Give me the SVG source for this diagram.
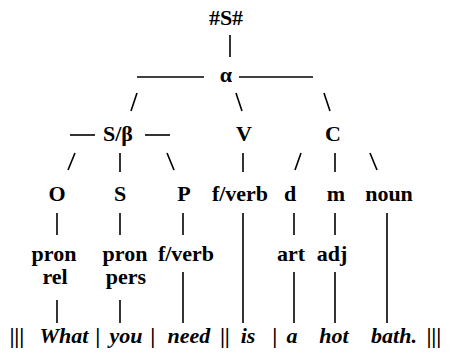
<svg xmlns="http://www.w3.org/2000/svg" width="450" height="357" viewBox="0 0 450 357">
<rect width="450" height="357" fill="#fff"/>
<g id="connectors" stroke="#000" stroke-width="1.6" fill="none">
<line x1="230" y1="35" x2="230" y2="57"/>
<line x1="137" y1="77" x2="204" y2="77"/>
<line x1="239" y1="77" x2="313" y2="77"/>
<line x1="137" y1="93" x2="131" y2="111"/>
<line x1="236" y1="93" x2="242" y2="111"/>
<line x1="324" y1="93" x2="330" y2="111"/>
<line x1="70" y1="135" x2="95" y2="135"/>
<line x1="145" y1="135" x2="170" y2="135"/>
<line x1="75" y1="153" x2="68" y2="170"/>
<line x1="120" y1="153" x2="120" y2="172"/>
<line x1="167" y1="153" x2="174" y2="170"/>
<line x1="243" y1="153" x2="243" y2="172"/>
<line x1="301" y1="153" x2="295" y2="170"/>
<line x1="335" y1="153" x2="335" y2="172"/>
<line x1="370" y1="153" x2="377" y2="170"/>
<line x1="57" y1="213" x2="57" y2="235"/>
<line x1="120" y1="213" x2="120" y2="235"/>
<line x1="183" y1="213" x2="183" y2="235"/>
<line x1="243" y1="213" x2="243" y2="323"/>
<line x1="294" y1="213" x2="294" y2="235"/>
<line x1="335" y1="213" x2="335" y2="235"/>
<line x1="387" y1="213" x2="387" y2="323"/>
<line x1="57" y1="300" x2="57" y2="323"/>
<line x1="120" y1="300" x2="120" y2="323"/>
<line x1="183" y1="272" x2="183" y2="323"/>
<line x1="294" y1="272" x2="294" y2="323"/>
<line x1="335" y1="272" x2="335" y2="323"/>
</g>
<g id="n-root"><text x="226" y="25" font-family="Liberation Serif" font-size="22" font-weight="bold" text-anchor="middle">#S#</text></g>
<g id="n-V"><text x="244" y="141" font-family="Liberation Serif" font-size="22" font-weight="bold" text-anchor="middle">V</text></g>
<g id="n-C"><text x="333" y="141" font-family="Liberation Serif" font-size="22" font-weight="bold" text-anchor="middle">C</text></g>
<g id="n-alpha"><text x="226" y="82" font-family="Liberation Serif" font-size="22" font-weight="bold" text-anchor="middle">α</text></g>
<g id="n-sbeta"><text x="118" y="141" font-family="Liberation Serif" font-size="22" font-weight="bold" text-anchor="middle">S/β</text></g>
<g id="n-O"><text x="57" y="201" font-family="Liberation Serif" font-size="22" font-weight="bold" text-anchor="middle">O</text></g>
<g id="n-S"><text x="120" y="201" font-family="Liberation Serif" font-size="22" font-weight="bold" text-anchor="middle">S</text></g>
<g id="n-P"><text x="184" y="201" font-family="Liberation Serif" font-size="22" font-weight="bold" text-anchor="middle">P</text></g>
<g id="n-fverb1"><text x="240" y="201" font-family="Liberation Serif" font-size="22" font-weight="bold" text-anchor="middle">f/verb</text></g>
<g id="n-d"><text x="290" y="201" font-family="Liberation Serif" font-size="22" font-weight="bold" text-anchor="middle">d</text></g>
<g id="n-m"><text x="336" y="201" font-family="Liberation Serif" font-size="22" font-weight="bold" text-anchor="middle">m</text></g>
<g id="n-noun"><text x="389" y="201" font-family="Liberation Serif" font-size="22" font-weight="bold" text-anchor="middle">noun</text></g>
<g id="n-pronrel"><text x="54" y="261" font-family="Liberation Serif" font-size="22" font-weight="bold" text-anchor="middle">pron</text><text x="55" y="284" font-family="Liberation Serif" font-size="22" font-weight="bold" text-anchor="middle">rel</text></g>
<g id="n-pronpers"><text x="125" y="261" font-family="Liberation Serif" font-size="22" font-weight="bold" text-anchor="middle">pron</text><text x="126" y="284" font-family="Liberation Serif" font-size="22" font-weight="bold" text-anchor="middle">pers</text></g>
<g id="n-fverb2"><text x="186" y="261" font-family="Liberation Serif" font-size="22" font-weight="bold" text-anchor="middle">f/verb</text></g>
<g id="n-art"><text x="291" y="261" font-family="Liberation Serif" font-size="22" font-weight="bold" text-anchor="middle">art</text></g>
<g id="n-adj"><text x="332" y="261" font-family="Liberation Serif" font-size="22" font-weight="bold" text-anchor="middle">adj</text></g>
<g id="sentence">
<text x="17" y="343" font-family="Liberation Serif" font-size="22" font-weight="bold" font-style="italic" text-anchor="middle">|||</text>
<text x="64" y="343" font-family="Liberation Serif" font-size="22" font-weight="bold" font-style="italic" text-anchor="middle">What</text>
<text x="98" y="343" font-family="Liberation Serif" font-size="22" font-weight="bold" font-style="italic" text-anchor="middle">|</text>
<text x="126" y="343" font-family="Liberation Serif" font-size="22" font-weight="bold" font-style="italic" text-anchor="middle">you</text>
<text x="153" y="343" font-family="Liberation Serif" font-size="22" font-weight="bold" font-style="italic" text-anchor="middle">|</text>
<text x="189" y="343" font-family="Liberation Serif" font-size="22" font-weight="bold" font-style="italic" text-anchor="middle">need</text>
<text x="225" y="343" font-family="Liberation Serif" font-size="22" font-weight="bold" font-style="italic" text-anchor="middle">||</text>
<text x="248" y="343" font-family="Liberation Serif" font-size="22" font-weight="bold" font-style="italic" text-anchor="middle">is</text>
<text x="275" y="343" font-family="Liberation Serif" font-size="22" font-weight="bold" font-style="italic" text-anchor="middle">|</text>
<text x="292" y="343" font-family="Liberation Serif" font-size="22" font-weight="bold" font-style="italic" text-anchor="middle">a</text>
<text x="334" y="343" font-family="Liberation Serif" font-size="22" font-weight="bold" font-style="italic" text-anchor="middle">hot</text>
<text x="394" y="343" font-family="Liberation Serif" font-size="22" font-weight="bold" font-style="italic" text-anchor="middle">bath.</text>
<text x="434" y="343" font-family="Liberation Serif" font-size="22" font-weight="bold" font-style="italic" text-anchor="middle">|||</text>
</g>
</svg>
